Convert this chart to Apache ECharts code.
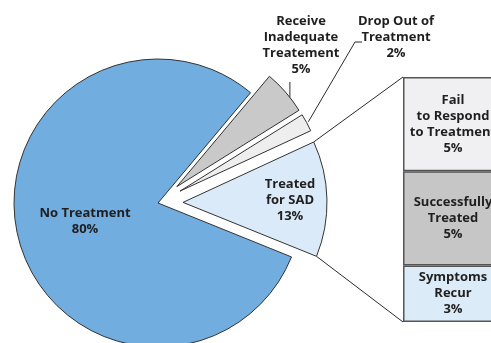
<!DOCTYPE html>
<html>
<head>
<meta charset="utf-8">
<script src="https://cdn.jsdelivr.net/npm/echarts@6/dist/echarts.min.js"></script>
<style>
  html, body { margin: 0; padding: 0; background: #fff; }
  #chart { width: 491px; height: 343px; }
</style>
</head>
<body>
<div id="chart"></div>
<script>
// Share of people with SAD by treatment status (pie) and outcome of treatment (bar)
const pieNames = ['Receive\nInadequate\nTreatement', 'Drop Out of\nTreatment', 'Treated\nfor SAD', 'No Treatment'];
const pieValues = [5, 2, 13, 80];
const pieColors = ['#c9c9c9', '#eeeeee', '#dbeaf8', '#72ade0'];

const barNames = ['Fail\nto Respond\nto Treatment', 'Successfully\nTreated', 'Symptoms\nRecur'];
const barValues = [5, 5, 3];
const barColors = ['#f0f0f2', '#c6c6c6', '#dcebf8'];

// Pie geometry
const CX = 158, CY = 203, R = 144, START = 50, OFFSET = 25;
// Label centres for each pie slice
const pieLabelPos = [[301, 45], [396, 37], [290, 200], [85, 221]];
// Bar panel placement (the panel runs past the right edge of the canvas)
const BAR_LEFT = 403, BAR_WIDTH = 100, BAR_TOP = 77, BAR_HEIGHT = 245;

const FONT = 'bold 13px "Open Sans"';
const textStyle = {
  fontFamily: 'Open Sans',
  fontWeight: 'bold',
  fontSize: 13,
  lineHeight: 16,
  color: '#1f1f1f'
};

const total = pieValues.reduce((a, b) => a + b, 0);
// start/end angles (degrees, counter-clockwise from +x) for each slice
const sliceAngles = [];
let acc = START;
pieValues.forEach(v => {
  const span = v / total * 360;
  sliceAngles.push([acc, acc - span]);
  acc -= span;
});
const rad = d => d * Math.PI / 180;
function sliceCenter(i) {
  const mid = (sliceAngles[i][0] + sliceAngles[i][1]) / 2;
  const off = i < 3 ? OFFSET : 0;
  return [CX + off * Math.cos(rad(mid)), CY - off * Math.sin(rad(mid))];
}
function arcPoint(i, a, r) {
  const c = sliceCenter(i);
  return [c[0] + r * Math.cos(rad(a)), c[1] - r * Math.sin(rad(a))];
}

const chart = echarts.init(document.getElementById('chart'), null, { renderer: 'canvas' });

const option = {
  animation: false,
  backgroundColor: '#ffffff',
  grid: {
    left: BAR_LEFT, width: BAR_WIDTH, top: BAR_TOP, height: BAR_HEIGHT,
    containLabel: false, outerBoundsMode: 'none'
  },
  xAxis: { type: 'category', data: ['SAD'], show: false },
  yAxis: { type: 'value', min: 0, max: barValues.reduce((a, b) => a + b, 0), show: false },
  series: [
    {
      type: 'pie',
      center: [CX, CY],
      radius: R,
      startAngle: START,
      clockwise: true,
      selectedMode: 'multiple',
      selectedOffset: OFFSET,
      emphasis: { disabled: true },
      itemStyle: { borderColor: '#333', borderWidth: 1 },
      label: { show: false },
      labelLine: { show: false },
      data: pieNames.map((n, i) => ({
        name: n,
        value: pieValues[i],
        selected: i < 3,
        itemStyle: { color: pieColors[i] }
      }))
    }
  ].concat(
    // stacked bar, drawn bottom-up
    barNames.map((n, i) => ({ n, i })).reverse().map(({ n, i }) => ({
      type: 'bar',
      name: n,
      stack: 'treated',
      barWidth: '100%',
      emphasis: { disabled: true },
      itemStyle: { color: barColors[i], borderColor: '#555', borderWidth: 1.5 },
      label: Object.assign({ show: true, position: 'inside', formatter: '{a}\n{c}%', align: 'center' }, textStyle),
      data: [barValues[i]]
    }))
  )
};
chart.setOption(option);

// Connector lines from the "Treated" slice to the bar, and leader lines for small slices
const lineStyle = { stroke: '#2b2b2b', lineWidth: 1, fill: null };
const t = 2; // index of "Treated" slice
const tTop = arcPoint(t, sliceAngles[t][0], R);
const tBot = arcPoint(t, sliceAngles[t][1], R);
const barTop = chart.convertToPixel({ yAxisIndex: 0 }, option.yAxis.max);
const barBot = chart.convertToPixel({ yAxisIndex: 0 }, 0);

const inadAngle = sliceAngles[0][0] - 0.65 * (sliceAngles[0][0] - sliceAngles[0][1]);
const inadStart = arcPoint(0, inadAngle, R);
const dropMid = (sliceAngles[1][0] + sliceAngles[1][1]) / 2;
const dropStart = arcPoint(1, dropMid, R + 2);

// Slice labels: name and share
const sliceLabels = pieNames.map((n, i) => ({
  type: 'text',
  x: pieLabelPos[i][0],
  y: pieLabelPos[i][1],
  z: 20,
  style: {
    text: n + '\n' + pieValues[i] + '%',
    font: FONT,
    lineHeight: 16,
    fill: '#1f1f1f',
    align: 'center',
    verticalAlign: 'middle'
  }
}));

chart.setOption({
  graphic: [
    { type: 'polyline', shape: { points: [tTop, [BAR_LEFT, barTop]] }, style: lineStyle, z: 10 },
    { type: 'polyline', shape: { points: [tBot, [BAR_LEFT, barBot]] }, style: lineStyle, z: 10 },
    { type: 'polyline', shape: { points: [inadStart, [inadStart[0], 82]] }, style: lineStyle, z: 10 },
    { type: 'polyline', shape: { points: [dropStart, [355, 42], [362, 42]] }, style: lineStyle, z: 10 }
  ].concat(sliceLabels)
});
</script>
</body>
</html>
